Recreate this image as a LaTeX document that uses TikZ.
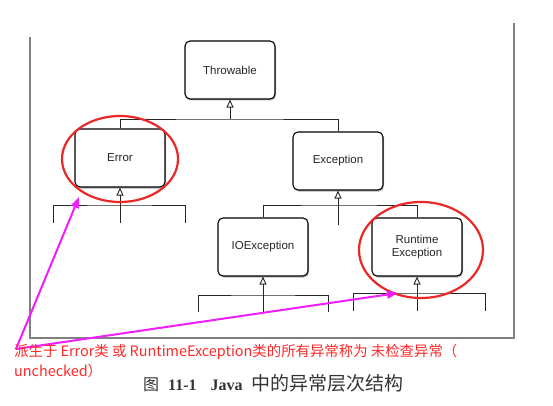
\documentclass[tikz,border=0pt]{standalone}
\usepackage{fontspec}
\setsansfont{Liberation Sans}
\newfontfamily\cjk{Noto Sans CJK SC}
\newfontfamily\capfont{Liberation Serif}
\usetikzlibrary{arrows.meta,shadows}
\definecolor{hintpink}{RGB}{240,30,250}
\definecolor{ringred}{RGB}{235,40,40}
\definecolor{notered}{RGB}{255,40,40}
\tikzset{
  cls/.style={draw, rounded corners=5pt, line width=1.1pt, fill=white,
    minimum width=90pt, minimum height=58pt, align=center, text=black!85,
    font=\sffamily\fontsize{11.5}{13}\selectfont,
    drop shadow={shadow xshift=1pt, shadow yshift=-1.5pt, fill=black!50, opacity=0.6}},
  link/.style={line width=0.9pt, black!85},
  isa/.style={link, -{Triangle[open,width=7pt,length=8pt]}},
  ring/.style={draw=ringred, line width=2.2pt},
  hint/.style={hintpink, line width=2pt, -{Triangle[width=8pt,length=11pt]}},
  pageedge/.style={black!50, line width=2.5pt},
}
\begin{document}
\begin{tikzpicture}[x=1pt,y=-1pt]
  \useasboundingbox (0,0) rectangle (553,406);
  % scanned page edge
  \draw[pageedge] (30,37) -- (30,338) -- (514,338) -- (514,23);

  \node[cls] (Throwable) at (230,70) {Throwable};
  \node[cls] (Error) at (120,158) {Error};
  \node[cls] (Exception) at (338,161) {Exception};
  \node[cls] (IOException) at (263,247) {IOException};
  \node[cls] (Runtime) at (417,247) {Runtime\\Exception};

  % Throwable
  \coordinate (tbus) at (230,119);
  \draw[isa] (tbus) -- (Throwable);
  \draw[link] (Error.north) |- (tbus) -| (Exception.north);

  % Error
  \coordinate (ebus) at (120,205);
  \coordinate (e1) at (53,223);
  \coordinate (e2) at (120,223);
  \coordinate (e3) at (185,223);
  \draw[isa] (e2) -- (Error);
  \draw[link] (e1) |- (ebus) -| (e3);

  % Exception
  \coordinate (xbus) at (338,205);
  \coordinate (x1) at (338,225);
  \draw[isa] (x1) -- (Exception);
  \draw[link] (IOException.north) |- (xbus) -| (Runtime.north);

  % IOException
  \coordinate (ibus) at (263,295);
  \coordinate (i1) at (198,312);
  \coordinate (i2) at (263,312);
  \coordinate (i3) at (328,312);
  \draw[isa] (i2) -- (IOException);
  \draw[link] (i1) |- (ibus) -| (i3);

  % RuntimeException
  \coordinate (rbus) at (417,293);
  \coordinate (r1) at (353,311);
  \coordinate (r2) at (417,311);
  \coordinate (r3) at (485,311);
  \draw[isa] (r2) -- (Runtime);
  \draw[link] (r1) |- (rbus) -| (r3);

  % marks
  \draw[ring] (Error.center) ++(0,1) ellipse [x radius=58pt, y radius=43pt];
  \draw[ring] (Runtime.center) ++(4,3) ellipse [x radius=62pt, y radius=48pt];
  \coordinate (src) at (16,349);
  \coordinate (errtip) at (79,197);
  \coordinate (rtetip) at (398,293);
  \draw[hint] (src) -- (errtip);
  \draw[hint] (src) -- (rtetip);

  \node[anchor=north west, inner sep=0pt, align=left, text=notered,
    font=\cjk\fontsize{14.4}{20}\selectfont] (note) at (14,344)
    {派生于 Error类 或 RuntimeException类的所有异常称为 未检查异常（\\unchecked）};
  \node[anchor=west, inner sep=0pt, text=black!80] (caption) at (143,383)
    {\cjk\fontsize{16}{18}\selectfont 图\hspace{9pt}\capfont\bfseries 11-1\hspace{14pt}Java\hspace{9pt}\cjk\mdseries\fontsize{19}{18}\selectfont 中的异常层次结构};
\end{tikzpicture}
\end{document}
